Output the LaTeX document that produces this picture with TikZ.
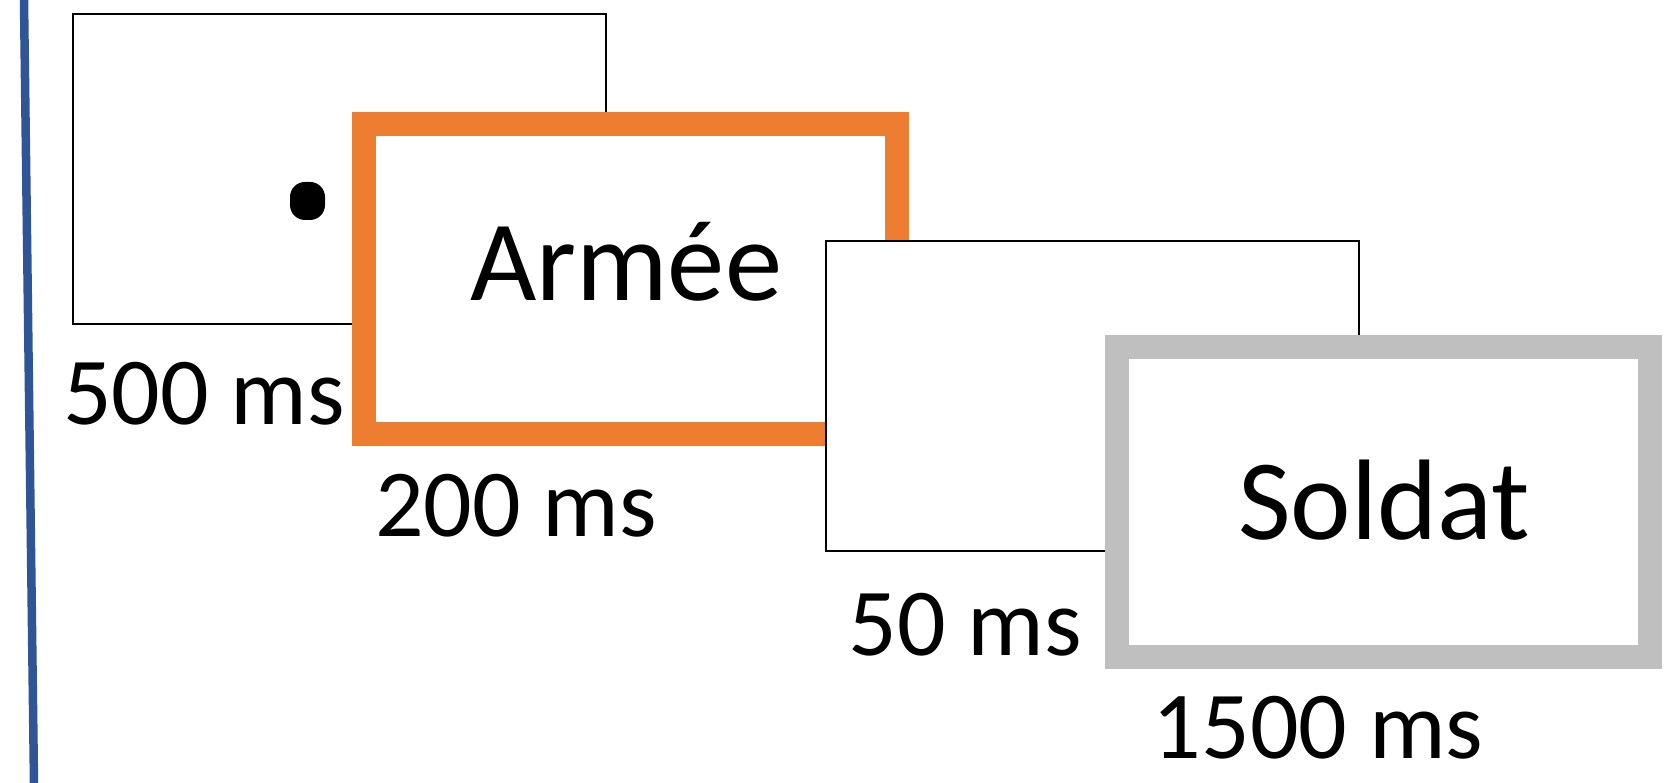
\documentclass[tikz,border=0pt]{standalone}
\usepackage{fontspec}
\setmainfont{Carlito}

\definecolor{primeorange}{HTML}{ED7D31}
\definecolor{targetgray}{HTML}{BFBFBF}
\definecolor{timeblue}{HTML}{2F5597}

\begin{document}
\begin{tikzpicture}[
    screen/.style={rectangle, draw, fill=white, inner sep=0pt,
                   minimum width=5.33cm, minimum height=3.10cm},
    dur/.style={anchor=base, inner sep=0pt, font=\fontsize{27.3}{32}\selectfont},
    word/.style={anchor=base, inner sep=0pt, font=\fontsize{32.6}{39}\selectfont}]

\useasboundingbox (0,0) rectangle (16.67,7.83);

% time line
\coordinate (ttop) at (0.24, 7.83);
\coordinate (tbot) at (0.34, 0);
\draw[timeblue, line width=0.085cm] (ttop) -- (tbot);

% fixation
\node (fixscreen)[screen, line width=0.6pt] at (3.391, 6.14) {};
\node (fix)[rectangle, fill=black, rounded corners=0.15cm, inner sep=0pt,
            minimum width=0.35cm, minimum height=0.38cm] at (3.075, 5.82) {};
\node (t1)[dur] at (2.04, 3.58) {500 ms};

% prime
\node (primescreen)[screen, draw=primeorange, line width=0.24cm] at (6.309, 5.04) {};
\node (prime)[word] at (6.26, 4.82) {Armée};
\node (t2)[dur] at (5.16, 2.46) {200 ms};

% blank
\node (blankscreen)[screen, line width=0.6pt] at (10.928, 3.871) {};
\node (t3)[dur] at (9.65, 1.27) {50 ms};

% target
\node (targetscreen)[screen, draw=targetgray, line width=0.24cm] at (13.832, 2.807) {};
\node (target)[word] at (13.84, 2.43) {Soldat};
\node (t4)[dur] at (13.18, 0.24) {1500 ms};

\end{tikzpicture}
\end{document}
